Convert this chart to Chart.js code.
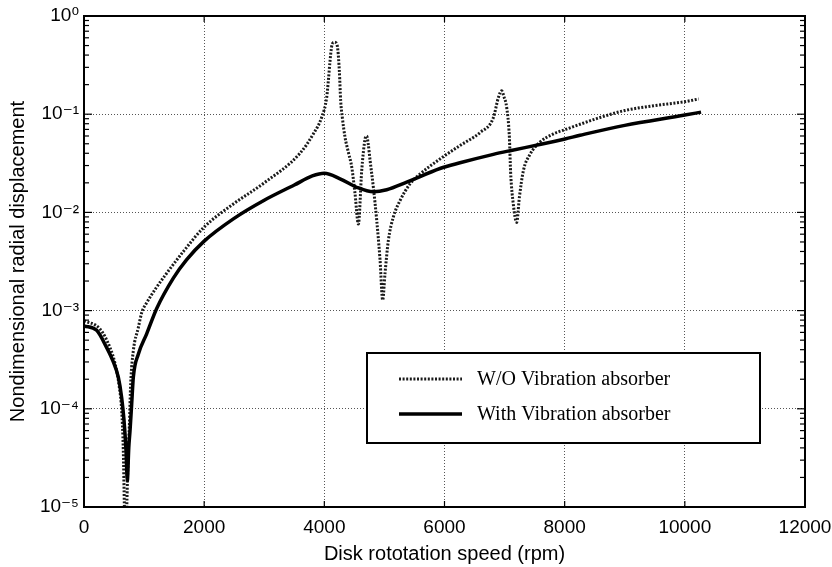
<!DOCTYPE html>
<html><head><meta charset="utf-8">
<script src="https://cdn.jsdelivr.net/npm/chart.js@4.4.1/dist/chart.umd.min.js"></script>
<style>html,body{margin:0;padding:0;background:#fff}#wrap{width:832px;height:567px;position:relative}</style>
</head><body><div id="wrap"><canvas id="c"></canvas></div>
<script>
const seriesLabels = ['W/O Vibration absorber', 'With Vibration absorber'];

const rpmWO = [0, 266, 433, 516, 588, 627, 654, 672, 690, 712, 735, 754, 777, 821, 904, 960, 1043, 1200, 1376, 1654,
  2000, 2486, 3000, 3595, 3817, 3956, 4039, 4067, 4095, 4122, 4160, 4200, 4225, 4250, 4272, 4300, 4345, 4400, 4456, 4511,
  4567, 4622, 4678, 4705, 4730, 4761, 4816, 4872, 4927, 4971, 5010, 5066, 5149, 5260, 5426, 5593, 5925, 6258, 6591, 6813,
  6897, 6952, 6990, 7035, 7080, 7100, 7146, 7201, 7246, 7312, 7423, 7590, 7812, 8017, 8256, 8600, 9000, 9480, 10000, 10230];
const dispWO = [7.9e-4, 6.5e-4, 4.2e-4, 2.9e-4, 1.66e-4, 9.6e-5, 3.8e-5, 1.0e-5, 3e-6, 1.0e-5, 3.5e-5, 6.5e-5, 1.8e-4, 3.9e-4, 6.7e-4, 9.5e-4, 1.2e-3, 1.7e-3, 2.4e-3, 4.0e-3,
  7.1e-3, 1.22e-2, 2.0e-2, 4.0e-2, 6.3e-2, 9.3e-2, 0.148, 0.22, 0.35, 0.49, 0.54, 0.53, 0.45, 0.275, 0.137, 9.2e-2, 5.8e-2, 4.1e-2, 2.9e-2, 1.55e-2,
  7.6e-3, 2.66e-2, 5.6e-2, 6.0e-2, 5.0e-2, 3.4e-2, 1.8e-2, 8.3e-3, 3.3e-3, 1.28e-3, 2.4e-3, 5.2e-3, 9e-3, 1.32e-2, 1.95e-2, 2.46e-2, 3.5e-2, 4.8e-2, 6.5e-2, 9.2e-2,
  0.148, 0.173, 0.15, 0.117, 5.8e-2, 2.6e-2, 1.2e-2, 7.9e-3, 1.42e-2, 2.65e-2, 3.9e-2, 5.2e-2, 6.3e-2, 7.0e-2, 7.9e-2, 9.3e-2, 0.109, 0.122, 0.134, 0.143];

const rpmWith = [0, 211, 377, 488, 571, 627, 666, 699, 721, 745, 766, 793, 821, 904, 1043, 1210, 1487, 1709, 2000, 2486,
  3000, 3500, 3800, 4000, 4261, 4539, 4816, 5038, 5371, 5925, 6258, 6813, 7090, 7645, 8006, 8256, 9000, 10000, 10270];
const dispWith = [7.0e-4, 6.3e-4, 4.2e-4, 3.0e-4, 2.1e-4, 1.3e-4, 7.6e-5, 3.8e-5, 1.86e-5, 4.0e-5, 6.0e-5, 1.1e-4, 2.1e-4, 3.6e-4, 5.8e-4, 1.05e-3, 2.14e-3, 3.3e-3, 5.1e-3, 8.6e-3,
  1.33e-2, 1.9e-2, 2.35e-2, 2.5e-2, 2.2e-2, 1.8e-2, 1.62e-2, 1.7e-2, 2.03e-2, 2.8e-2, 3.2e-2, 3.9e-2, 4.25e-2, 5.0e-2, 5.6e-2, 6.1e-2, 7.7e-2, 9.8e-2, 0.105];

const xTicks = [0, 2000, 4000, 6000, 8000, 10000, 12000];
const yDecades = [1e-5, 1e-4, 1e-3, 1e-2, 1e-1, 1];
const xTitle = 'Disk rototation speed (rpm)';
const yTitle = 'Nondimensional radial displacement';

const SUP = {'-': '\u207B', '0': '\u2070', '1': '\u00B9', '2': '\u00B2', '3': '\u00B3', '4': '\u2074', '5': '\u2075'};
function isDecade(v) {
  const e = Math.round(Math.log10(v));
  return Math.abs(v - Math.pow(10, e)) / v < 1e-6;
}
function decadeLabel(v) {
  const e = Math.round(Math.log10(v));
  return '10' + String(e).split('').map(ch => SUP[ch]).join('');
}

const sansFont = '"Liberation Sans", Arial, "DejaVu Sans", sans-serif';
const serifFont = '"Liberation Serif", "Times New Roman", serif';

const framePlugin = {
  id: 'frame',
  afterDatasetsDraw(chart) {
    const {ctx, chartArea: a, scales: {x, y}} = chart;
    ctx.save();
    ctx.setLineDash([]);
    ctx.strokeStyle = '#000';
    ctx.lineWidth = 1.2;
    const seg = (x1, y1, x2, y2) => { ctx.beginPath(); ctx.moveTo(x1, y1); ctx.lineTo(x2, y2); ctx.stroke(); };
    yDecades.forEach(d => {
      for (let m = 1; m <= 9; m++) {
        const v = m * d;
        if (v < y.min * 0.999 || v > y.max * 1.001) continue;
        const py = y.getPixelForValue(v);
        const len = m === 1 ? 8 : 5;
        seg(a.left, py, a.left + len, py);
        seg(a.right - len, py, a.right, py);
      }
    });
    xTicks.forEach(t => {
      const px = x.getPixelForValue(t);
      seg(px, a.bottom, px, a.bottom - 6);
      seg(px, a.top, px, a.top + 6);
    });
    ctx.lineWidth = 2;
    ctx.strokeRect(a.left, a.top, a.right - a.left, a.bottom - a.top);

    // legend box
    const bx = 367, by = 353, bw = 393, bh = 90;
    ctx.fillStyle = '#fff';
    ctx.fillRect(bx, by, bw, bh);
    ctx.lineWidth = 2;
    ctx.strokeRect(bx, by, bw, bh);
    const rows = [379, 414];
    chart.data.datasets.forEach((ds, i) => {
      const ry = rows[i];
      ctx.save();
      ctx.strokeStyle = ds.borderColor;
      ctx.lineWidth = ds.borderWidth;
      ctx.setLineDash(ds.borderDash || []);
      seg(399, ry, 462, ry);
      ctx.restore();
      ctx.fillStyle = '#000';
      ctx.font = '20px ' + serifFont;
      ctx.textBaseline = 'middle';
      ctx.textAlign = 'left';
      ctx.fillText(ds.label, 477, ry + 1);
    });
    ctx.restore();
  }
};

new Chart(document.getElementById('c'), {
  type: 'line',
  data: {
    datasets: [
      {
        label: seriesLabels[0],
        data: rpmWO.map((r, i) => ({x: r, y: dispWO[i]})),
        borderColor: '#1a1a1a',
        borderWidth: 3,
        borderDash: [2, 1.6],
        pointRadius: 0,
        cubicInterpolationMode: 'monotone',
        fill: false,
        order: 1
      },
      {
        label: seriesLabels[1],
        data: rpmWith.map((r, i) => ({x: r, y: dispWith[i]})),
        borderColor: '#000',
        borderWidth: 3.5,
        pointRadius: 0,
        cubicInterpolationMode: 'monotone',
        fill: false,
        order: 0
      }
    ]
  },
  options: {
    responsive: true,
    maintainAspectRatio: false,
    animation: false,
    devicePixelRatio: 1,
    layout: {padding: {top: 16, right: 27, left: 0, bottom: 0}},
    plugins: {legend: {display: false}, tooltip: {enabled: false}},
    scales: {
      x: {
        type: 'linear',
        min: 0, max: 12000,
        afterBuildTicks(scale) { scale.ticks = xTicks.map(v => ({value: v})); },
        afterFit(scale) { scale.height = 60; scale.paddingLeft = 0; scale.paddingRight = 0; },
        ticks: {color: '#000', font: {family: sansFont, size: 19}, padding: 9, maxRotation: 0, autoSkip: false,
          callback: v => String(v)},
        grid: {color: '#555', lineWidth: 1, drawTicks: false},
        border: {display: false, dash: [1, 2]},
        title: {display: true, text: xTitle, color: '#000', font: {family: sansFont, size: 20}, padding: {top: 0, bottom: 1}}
      },
      y: {
        type: 'logarithmic',
        min: 1e-5, max: 1,
        afterFit(scale) { scale.width = 84; scale.paddingTop = 0; scale.paddingBottom = 0; },
        ticks: {color: '#000', font: {family: sansFont, size: 19}, padding: 5, autoSkip: false,
          callback: v => isDecade(v) ? decadeLabel(v) : null},
        grid: {color: ctx => (ctx.tick && isDecade(ctx.tick.value)) ? '#555' : 'rgba(0,0,0,0)', lineWidth: 1, drawTicks: false},
        border: {display: false, dash: [1, 2]},
        title: {display: true, text: yTitle, color: '#000', font: {family: sansFont, size: 20}, padding: {top: 6, bottom: 0}}
      }
    }
  },
  plugins: [framePlugin]
});
</script>
</body></html>
